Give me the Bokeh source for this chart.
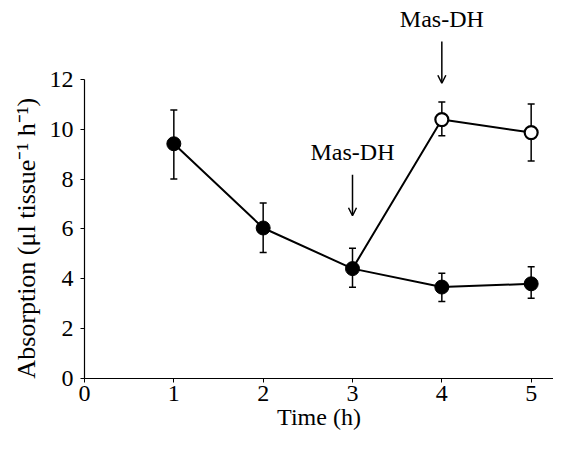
from bokeh.plotting import figure
from bokeh.models import Range1d, FixedTicker, Whisker, TeeHead, ColumnDataSource, Arrow, OpenHead
from bokeh.core.properties import value
from bokeh.embed import file_html
from bokeh.resources import INLINE

# Data
time_control = [1, 2, 3, 4, 5]
abs_control = [9.42, 6.04, 4.41, 3.67, 3.80]
err_control_upper = [10.78, 7.04, 5.23, 4.22, 4.48]
err_control_lower = [8.01, 5.06, 3.66, 3.09, 3.22]

time_masdh = [3, 4, 5]
abs_masdh = [4.41, 10.39, 9.87]
err_masdh_upper = [None, 11.10, 11.02]
err_masdh_lower = [None, 9.74, 8.73]

x_ticks = [0, 1, 2, 3, 4, 5]
y_ticks = [0, 2, 4, 6, 8, 10, 12]

ann_x = [3, 4]
ann_text_y = [9.09, 14.42]
ann_arrow_top = [8.18, 13.52]
ann_arrow_tip = [6.53, 11.85]
ann_labels = ["Mas-DH", "Mas-DH"]

x_label = "Time (h)"
y_label = "Absorption (\u03bcl tissue\u207b\u00b9 h\u207b\u00b9)"

FONT = "Liberation Serif"
FS = "24px"

p = figure(width=553, height=438, output_backend="svg", toolbar_location=None,
           x_range=Range1d(0, 5.25), y_range=Range1d(0, 15.17),
           min_border_left=84, min_border_right=0, min_border_top=0, min_border_bottom=60)
p.outline_line_color = None
p.xgrid.visible = False
p.ygrid.visible = False

for ax in (p.xaxis[0], p.yaxis[0]):
    ax.major_label_text_font = FONT
    ax.major_label_text_font_size = FS
    ax.axis_label_text_font = FONT
    ax.axis_label_text_font_size = FS
    ax.axis_label_text_font_style = "normal"
    ax.axis_line_color = "black"
    ax.axis_line_width = 1.2
    ax.major_tick_line_color = "black"
    ax.major_tick_in = 0
    ax.major_tick_out = 4
    ax.minor_tick_line_color = None
    ax.major_label_text_color = "black"
    ax.axis_label_text_color = "black"

p.xaxis.ticker = FixedTicker(ticks=x_ticks)
p.yaxis.ticker = FixedTicker(ticks=y_ticks)
p.yaxis.bounds = (0, 12)
p.xaxis.axis_label = x_label
p.xaxis.major_label_standoff = 3
p.xaxis.axis_label_standoff = 0
p.yaxis.major_label_standoff = 7
p.yaxis.axis_label_standoff = 6
p.yaxis.axis_label_text_font_size = "26px"
# trailing no-break spaces shift the title's centre down onto the 0-12 axis span
p.yaxis.axis_label = y_label + "\u00a0" * 15

src_c = ColumnDataSource(dict(x=time_control, y=abs_control, up=err_control_upper, lo=err_control_lower))
m_x = [t for t, u in zip(time_masdh, err_masdh_upper) if u is not None]
m_up = [u for u in err_masdh_upper if u is not None]
m_lo = [l for l in err_masdh_lower if l is not None]
src_m = ColumnDataSource(dict(x=m_x, up=m_up, lo=m_lo))

p.line(time_control, abs_control, line_color="black", line_width=2)
p.line(time_masdh, abs_masdh, line_color="black", line_width=2)

for src in (src_c, src_m):
    w = Whisker(source=src, base="x", upper="up", lower="lo", line_color="black", line_width=1.5,
                upper_head=TeeHead(size=7, line_color="black", line_width=1.5),
                lower_head=TeeHead(size=7, line_color="black", line_width=1.5))
    p.add_layout(w)

p.scatter(time_control, abs_control, size=14, fill_color="black", line_color="black")
p.scatter(time_masdh[1:], abs_masdh[1:], size=13, fill_color="white", line_color="black", line_width=2.2)

for xa, yt, ya, yb, lab in zip(ann_x, ann_text_y, ann_arrow_top, ann_arrow_tip, ann_labels):
    p.add_layout(Arrow(x_start=xa, y_start=ya, x_end=xa, y_end=yb, line_color="black", line_width=1.5,
                       end=OpenHead(size=8, line_color="black", line_width=1.5)))
    p.text(x=[xa], y=[yt], text=[lab], text_font=value(FONT), text_font_size=FS,
           text_align="center", text_baseline="middle", text_color="black")

open("out.html", "w").write(file_html(p, INLINE))
